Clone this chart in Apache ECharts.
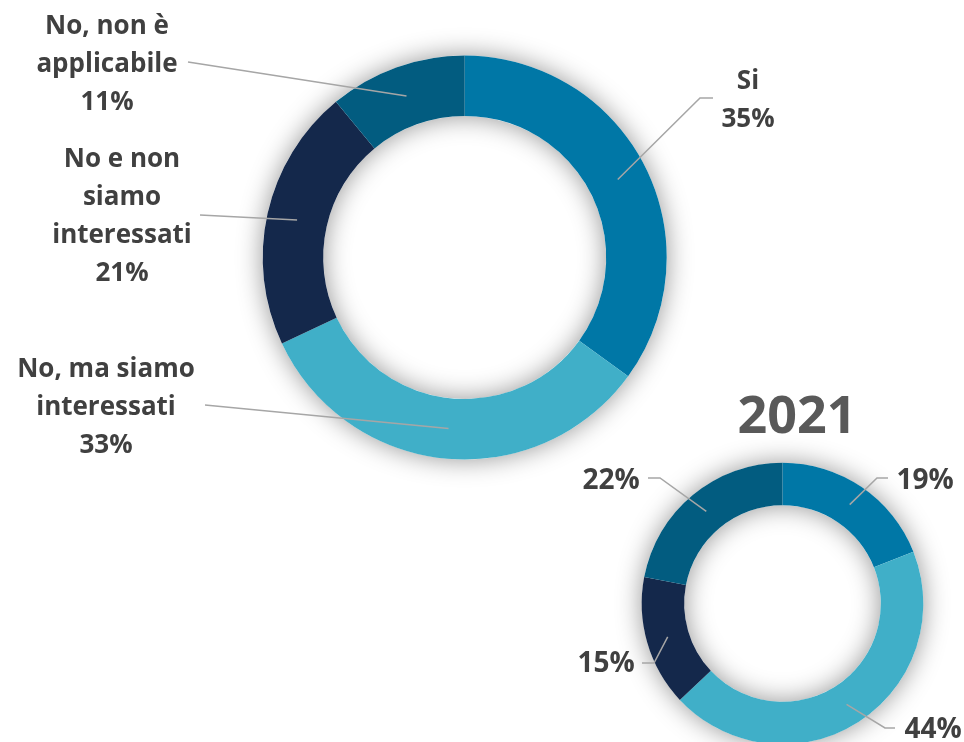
<!DOCTYPE html>
<html><head><meta charset="utf-8">
<script src="https://cdn.jsdelivr.net/npm/echarts@6/dist/echarts.min.js"></script>
<style>html,body{margin:0;padding:0;background:#fff}#c{width:964px;height:742px}</style>
</head><body><div id="c"></div>
<script>
// ---- data ----
const categories = ['Si', 'No, ma siamo interessati', 'No e non siamo interessati', 'No, non è applicabile'];
const categoryLabels = ['Si', 'No, ma siamo\ninteressati', 'No e non\nsiamo\ninteressati', 'No, non è\napplicabile'];
const valuesMain = [35, 33, 21, 11];
const values2021 = [19, 44, 15, 22];
const title2021 = '2021';

// ---- style / layout ----
const colors = ['#0077A6', '#40AFC8', '#14284B', '#025C80'];
const FONT = '"Open Sans", "DejaVu Sans", sans-serif';
const big = {cx: 464.7, cy: 257.5, r0: 141.5, r1: 202};
const small = {cx: 782.5, cy: 603.5, r0: 98.3, r1: 140.8};
// label anchors and leader elbows (layout only)
const bigLayout = [
  {x: 748, y: 101, pts: [[700, 98], [713, 98]]},
  {x: 106, y: 408, pts: [[205, 405], [205, 405]]},
  {x: 122, y: 217, pts: [[200, 215], [200, 215]]},
  {x: 107, y: 65, pts: [[188, 62], [188, 62]]}
];
const smallLayout = [
  {x: 925, y: 481, pts: [[877, 478], [888, 478]]},
  {x: 933, y: 730, pts: [[885, 728], [895, 728]]},
  {x: 606, y: 664, pts: [[654, 663], [642, 663]]},
  {x: 611, y: 481, pts: [[660, 478], [648, 478]]}
];

function midAngles(vals) {
  const total = vals.reduce((a, b) => a + b, 0);
  let acc = 0;
  return vals.map(v => { const m = (acc + v / 2) / total * 2 * Math.PI; acc += v; return m; });
}
function makeLayout(vals, geo, lay) {
  const mids = midAngles(vals);
  const rm = (geo.r0 + geo.r1) / 2;
  return function (p) {
    const i = p.dataIndex, a = mids[i], L = lay[i];
    const s = [geo.cx + rm * Math.sin(a), geo.cy - rm * Math.cos(a)];
    return {x: L.x, y: L.y, align: 'center', verticalAlign: 'middle',
            labelLinePoints: [s, L.pts[0], L.pts[1]]};
  };
}

function shadowRing(geo) {
  return {
    type: 'pie', silent: true, z: 1,
    center: [geo.cx, geo.cy], radius: [geo.r0, geo.r1],
    label: {show: false}, labelLine: {show: false},
    itemStyle: {color: '#ffffff', shadowBlur: 26, shadowColor: 'rgba(0,0,0,0.42)'},
    data: [{value: 1, name: ''}]
  };
}
function donut(vals, geo) {
  return {
    type: 'pie', z: 2, startAngle: 90, clockwise: true, silent: true,
    center: [geo.cx, geo.cy], radius: [geo.r0, geo.r1],
    label: {show: false}, labelLine: {show: false},
    itemStyle: {borderWidth: 0},
    data: vals.map((v, i) => ({value: v, name: categories[i], itemStyle: {color: colors[i]}}))
  };
}
function labelsOnly(vals, geo, lay, withName, fontSize) {
  return {
    type: 'pie', z: 3, startAngle: 90, clockwise: true, silent: true,
    center: [geo.cx, geo.cy], radius: [geo.r0, geo.r1],
    avoidLabelOverlap: false,
    itemStyle: {color: 'rgba(0,0,0,0)', borderWidth: 0},
    label: {
      show: true, position: 'outside',
      color: '#404040', fontFamily: FONT, fontWeight: 'bold',
      fontSize: fontSize, lineHeight: Math.round(fontSize * 1.46), align: 'center',
      formatter: p => (withName ? categoryLabels[p.dataIndex] + '\n' : '') + p.value + '%'
    },
    labelLine: {show: true, lineStyle: {color: '#A6A6A6', width: 1.5}},
    labelLayout: makeLayout(vals, geo, lay),
    data: vals.map((v, i) => ({value: v, name: categories[i]}))
  };
}

const chart = echarts.init(document.getElementById('c'), null, {renderer: 'canvas'});
chart.setOption({
  backgroundColor: '#ffffff',
  animation: false,
  title: {
    text: title2021, left: 792, top: 387, textAlign: 'center',
    textStyle: {color: '#595959', fontFamily: FONT, fontWeight: 'bold', fontSize: 52}
  },
  series: [
    shadowRing(big),
    donut(valuesMain, big),
    labelsOnly(valuesMain, big, bigLayout, true, 26),
    shadowRing(small),
    donut(values2021, small),
    labelsOnly(values2021, small, smallLayout, false, 28)
  ]
});
</script></body></html>
